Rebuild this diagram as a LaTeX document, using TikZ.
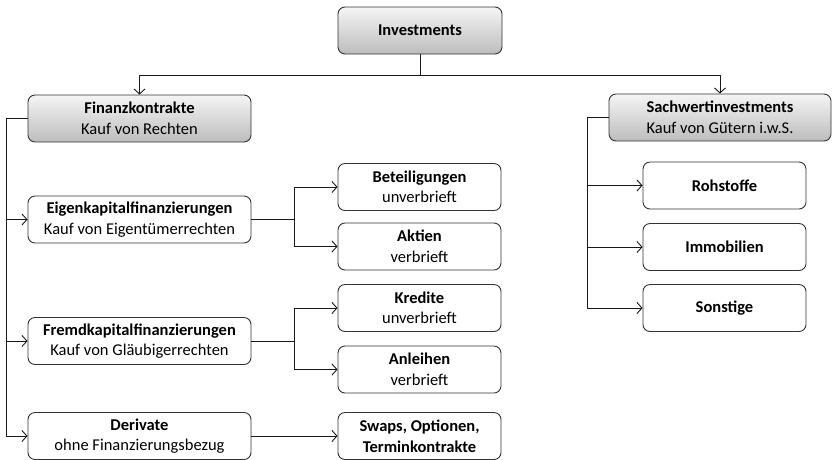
\documentclass[tikz,border=0pt]{standalone}
\usepackage{fontspec}
\setmainfont{Carlito}
\usetikzlibrary{arrows.meta}

\newlength{\du}
\setlength{\du}{1pt}
\definecolor{boxline}{rgb}{0.20,0.20,0.20}
\definecolor{linkline}{rgb}{0.10,0.10,0.10}
\definecolor{shadetop}{rgb}{0.96,0.96,0.96}
\definecolor{shadebottom}{rgb}{0.74,0.74,0.74}
\tikzset{
  box/.style={draw=boxline, line width=0.9\du, rounded corners=7\du, fill=white,
    minimum width=163\du, minimum height=47\du, inner sep=0pt, align=center,
    font=\fontsize{16.5}{20.5}\selectfont},
  widebox/.style={box, minimum width=223\du},
  headbox/.style={widebox, top color=shadetop, bottom color=shadebottom},
  link/.style={draw=linkline, line width=0.9\du},
  arr/.style={link, -{Straight Barb[length=5pt,width=11pt]}},
}

\begin{document}
\begin{tikzpicture}[x=1\du,y=-1\du]
\useasboundingbox (0,0) rectangle (832,459);

\node[headbox, minimum width=164\du] (inv) at (420,30.5){\textbf{Investments}};
\node[headbox] (fin) at (139.5,118.5){\textbf{Finanzkontrakte}\\Kauf von Rechten};
\node[headbox, minimum width=222\du] (sach) at (720,117.5){\textbf{Sachwertinvestments}\\Kauf von Gütern i.w.S.};

\node[widebox] (eigen) at (139.5,219.5){\textbf{Eigenkapitalfinanzierungen}\\Kauf von Eigentümerrechten};
\node[widebox] (fremd) at (139.5,341){\textbf{Fremdkapitalfinanzierungen}\\Kauf von Gläubigerrechten};
\node[widebox] (deriv) at (139.5,436){\textbf{Derivate}\\ohne Finanzierungsbezug};

\node[box] (betei) at (419.5,187){\textbf{Beteiligungen}\\unverbrieft};
\node[box] (aktien) at (419.5,246.5){\textbf{Aktien}\\verbrieft};
\node[box] (kredite) at (419.5,308){\textbf{Kredite}\\unverbrieft};
\node[box] (anleihen) at (419.5,369.5){\textbf{Anleihen}\\verbrieft};
\node[box] (swaps) at (419.5,436){\textbf{Swaps, Optionen,}\\\textbf{Terminkontrakte}};

\node[box] (roh) at (724.5,185.5){\textbf{Rohstoffe}};
\node[box] (immo) at (724.5,247){\textbf{Immobilien}};
\node[box] (sonst) at (724.5,308){\textbf{Sonstige}};

% top level
\coordinate (split) at (420,75);
\draw[link] (inv) -- (split);
\draw[arr] (split) -| (fin);
\draw[arr] (split) -| (sach);

% Finanzkontrakte
\coordinate (fspine) at ([xshift=-21\du]fin.west);
\draw[arr] (fin.west) -- (fspine) |- (eigen);
\draw[arr] (fspine) |- (fremd);
\draw[arr] (fspine) |- (deriv);

\coordinate (espl) at ([xshift=43\du]eigen.east);
\draw[link] (eigen) -- (espl);
\draw[arr] (espl) |- (betei);
\draw[arr] (espl) |- (aktien);

\coordinate (fspl) at ([xshift=43\du]fremd.east);
\draw[link] (fremd) -- (fspl);
\draw[arr] (fspl) |- (kredite);
\draw[arr] (fspl) |- (anleihen);

\draw[arr] (deriv) -- (swaps);

% Sachwertinvestments
\coordinate (sspine) at ([xshift=-21\du]sach.west);
\draw[arr] (sach.west) -- (sspine) |- (roh);
\draw[arr] (sspine) |- (immo);
\draw[arr] (sspine) |- (sonst);
\end{tikzpicture}
\end{document}
